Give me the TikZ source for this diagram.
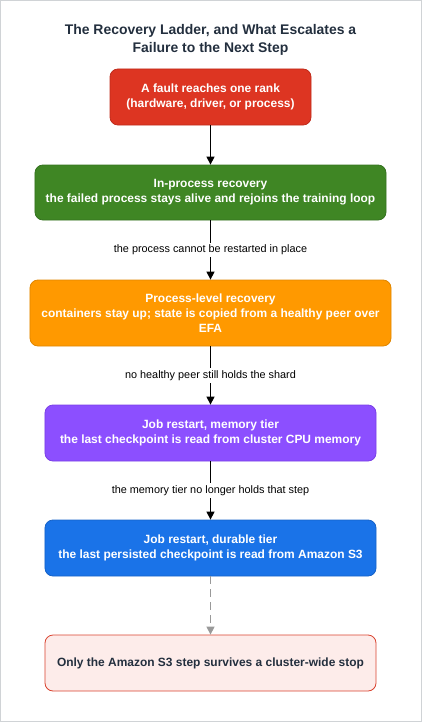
\documentclass[tikz,border=0pt]{standalone}
\usepackage{fontspec}
\setmainfont{Liberation Sans}
\usetikzlibrary{arrows.meta}
\definecolor{framegray}{HTML}{D0D3D6}
\definecolor{titlecol}{HTML}{232F3E}
\definecolor{redfill}{HTML}{DD3522}
\definecolor{redline}{HTML}{C02C1C}
\definecolor{greenfill}{HTML}{3F8624}
\definecolor{greenline}{HTML}{357320}
\definecolor{orangefill}{HTML}{FF9900}
\definecolor{orangeline}{HTML}{E08600}
\definecolor{purplefill}{HTML}{8C4FFF}
\definecolor{purpleline}{HTML}{7A40E6}
\definecolor{bluefill}{HTML}{1A73E8}
\definecolor{blueline}{HTML}{1662C8}
\definecolor{pinkfill}{HTML}{FDECEA}
\definecolor{pinkline}{HTML}{D9432F}
\definecolor{dashgray}{HTML}{999999}
\tikzset{
  stepbox/.style={rounded corners=8bp, line width=0.8bp, text=white, align=center, inner sep=0pt,
    font=\fontsize{12}{14.8}\selectfont\bfseries},
  arr/.style={line width=1.3bp, draw=black, -{Triangle[length=8bp,width=8bp]}},
  dasharr/.style={line width=1.3bp, draw=dashgray, dash pattern=on 8bp off 5bp, -{Triangle[length=8bp,width=8bp]}},
  edgelabel/.style={fill=white, inner sep=2bp, font=\fontsize{10.9}{13}\selectfont, text=black},
}
\begin{document}
\begin{tikzpicture}[x=1bp,y=-1bp]
\useasboundingbox (0,0) rectangle (422,722);
\draw[framegray, line width=1bp] (0.5,0.5) rectangle (421.5,721.5);
\node[align=center, text=titlecol, font=\fontsize{14}{17.5}\selectfont\bfseries] (title) at (210.5,40)
  {The Recovery Ladder, and What Escalates a\\Failure to the Next Step};
\node[stepbox, fill=redfill, draw=redline, minimum width=201bp, minimum height=56bp] (b1) at (210.5,97)
  {A fault reaches one rank\\(hardware, driver, or process)};
\node[stepbox, fill=greenfill, draw=greenline, minimum width=351bp, minimum height=55bp] (b2) at (210.5,192.5)
  {In-process recovery\\the failed process stays alive and rejoins the training loop};
\node[stepbox, fill=orangefill, draw=orangeline, minimum width=361bp, minimum height=66bp] (b3) at (210.5,313)
  {Process-level recovery\\containers stay up; state is copied from a healthy peer over\\EFA};
\node[stepbox, fill=purplefill, draw=purpleline, minimum width=331bp, minimum height=56bp] (b4) at (210.5,433)
  {Job restart, memory tier\\the last checkpoint is read from cluster CPU memory};
\node[stepbox, fill=bluefill, draw=blueline, minimum width=331bp, minimum height=56bp] (b5) at (210.5,548)
  {Job restart, durable tier\\the last persisted checkpoint is read from Amazon S3};
\node[stepbox, fill=pinkfill, draw=pinkline, text=titlecol, minimum width=331bp, minimum height=56bp] (b6) at (210.5,663)
  {Only the Amazon S3 step survives a cluster-wide stop};
\draw[arr] (b1) -- (b2);
\draw[arr] (b2) -- node[edgelabel] {the process cannot be restarted in place} (b3);
\draw[arr] (b3) -- node[edgelabel] {no healthy peer still holds the shard} (b4);
\draw[arr] (b4) -- node[edgelabel] {the memory tier no longer holds that step} (b5);
\draw[dasharr] (b5) -- (b6);
\end{tikzpicture}
\end{document}
